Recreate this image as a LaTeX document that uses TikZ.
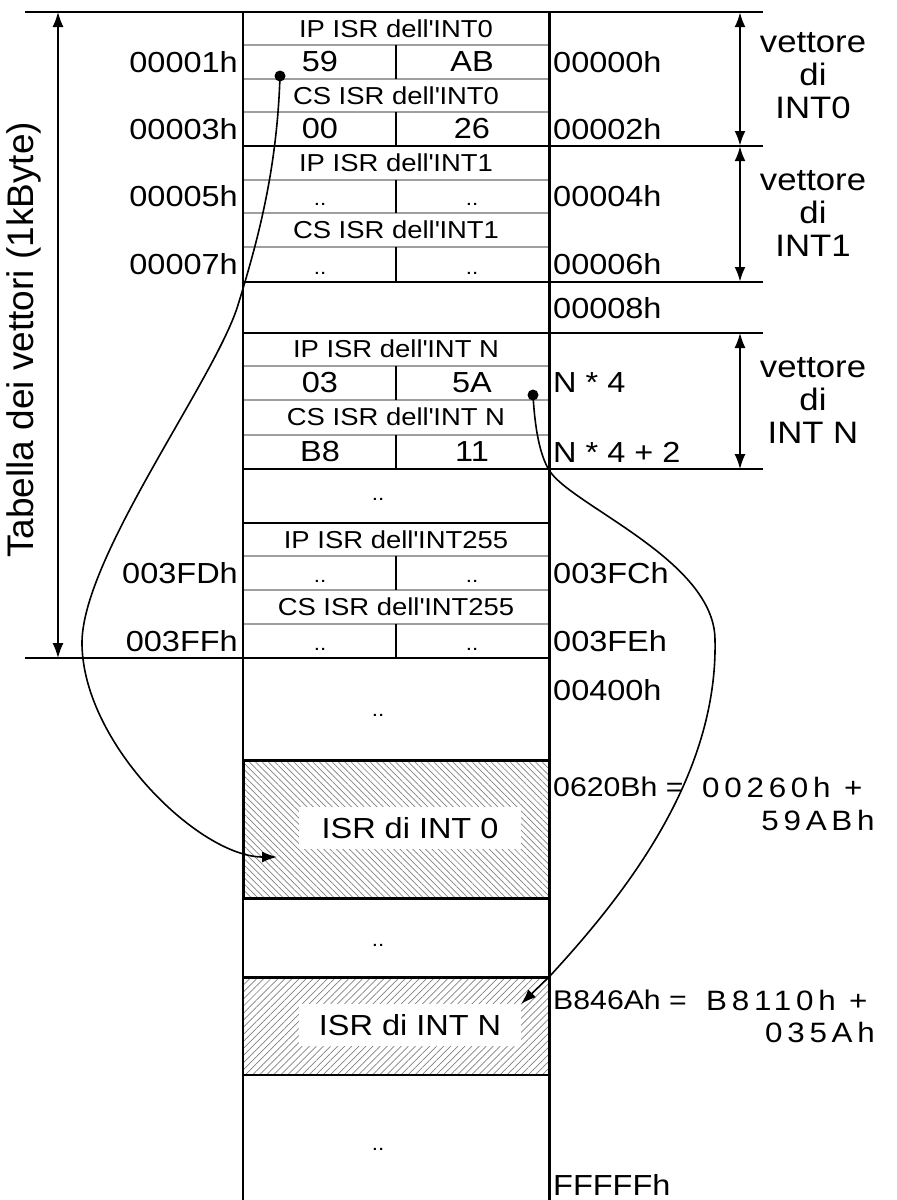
\documentclass[tikz,border=0pt]{standalone}
\usepackage{fontspec}
\setmainfont{Liberation Sans}[FakeStretch=1.12]
\newfontfamily\upfont{Liberation Sans}
\usetikzlibrary{arrows.meta,patterns.meta}
\tikzset{>={Latex[length=15pt,width=11pt]}}
\tikzset{
  addr/.style={font=\fontsize{29}{31}\selectfont, inner sep=2pt},
  head/.style={font=\fontsize{24.5}{26}\selectfont, inner sep=0pt},
  val/.style={font=\fontsize{29}{31}\selectfont, inner sep=0pt},
  dots/.style={font=\fontsize{20}{20}\selectfont, anchor=base, inner sep=0pt},
  spaced/.style={font=\fontsize{28}{30}\selectfont\addfontfeature{LetterSpace=17}},
  subline/.style={gray!75, line width=2pt},
  rowline/.style={line width=1.8pt},
  vect/.style={align=center, font=\fontsize{31}{33}\selectfont},
  isr/.style={fill=white, font=\fontsize{29}{31}\selectfont, minimum width=222pt, minimum height=42pt, inner sep=0pt},
}

\begin{document}
\begin{tikzpicture}[x=1pt,y=-1pt]
\useasboundingbox (0,0) rectangle (897,1200);

% ISR areas
\fill[pattern={Lines[angle=-45,distance=4.5pt,line width=0.7pt]}, pattern color=gray] (243,760) rectangle (549,898);
\fill[pattern={Lines[angle=45,distance=5pt,line width=0.7pt]}, pattern color=gray] (243,977) rectangle (549,1075);

% rows of the table
\foreach \y in {45,79,112,180,213,247,366,400,435,556,590,624}
  \draw[subline] (243,\y) -- (549,\y);
\foreach \y in {146,282,333,469,523,658}
  \draw[rowline] (243,\y) -- (549,\y);
\foreach \ya/\yb in {45/79,112/146,180/213,247/282,366/400,435/469,556/590,624/658}
  \draw[line width=1.3pt] (396,\ya) -- (396,\yb);

% borders
\draw[line width=2pt] (25,12) -- (763,12);
\draw[line width=1.8pt] (25,658) -- (243,658);
\draw[line width=1.8pt] (549,146) -- (763,146);
\draw[line width=2.6pt] (549,282) -- (763,282);
\draw[line width=1.8pt] (549,333) -- (763,333);
\draw[line width=1.8pt] (549,469) -- (763,469);
\draw[line width=3pt] (243,760) rectangle (549,898);
\draw[line width=3pt] (243,977) -- (549,977);
\draw[line width=2.2pt] (243,1075) -- (549,1075);
\draw[line width=2.2pt] (243,12) -- (243,1200);
\draw[line width=3pt] (549,12) -- (549,1200);

% cell texts
\node[head] (ip0) at (396,29) {IP ISR dell\textquotesingle INT0};
\node[val] (a0) at (320,62) {59};
\node[val] (b0) at (472,62) {AB};
\node[head] (cs0) at (396,96) {CS ISR dell\textquotesingle INT0};
\node[val] (c0) at (320,129) {00};
\node[val] (d0) at (472,129) {26};
\node[head] (ip1) at (396,163) {IP ISR dell\textquotesingle INT1};
\node[dots] at (320,205) {..};
\node[dots] at (472,205) {..};
\node[head] (cs1) at (396,230) {CS ISR dell\textquotesingle INT1};
\node[dots] at (320,274) {..};
\node[dots] at (472,274) {..};
\node[head] (ipN) at (396,349) {IP ISR dell\textquotesingle INT N};
\node[val] (aN) at (320,383) {03};
\node[val] (bN) at (472,383) {5A};
\node[head] (csN) at (396,417) {CS ISR dell\textquotesingle INT N};
\node[val] (cN) at (320,452) {B8};
\node[val] (dN) at (472,452) {11};
\node[dots] at (378,500) {..};
\node[head] (ip255) at (396,540) {IP ISR dell\textquotesingle INT255};
\node[dots] at (320,582) {..};
\node[dots] at (472,582) {..};
\node[head] (cs255) at (396,607) {CS ISR dell\textquotesingle INT255};
\node[dots] at (320,650) {..};
\node[dots] at (472,650) {..};
\node[dots] at (378,716) {..};
\node[isr] (isr0) at (410,828) {ISR di INT 0};
\node[dots] at (378,946) {..};
\node[isr] (isrN) at (410,1025) {ISR di INT N};
\node[dots] at (378,1150) {..};

% addresses
\foreach \t/\y in {00001h/62,00003h/129,00005h/196,00007h/264,003FDh/573,003FFh/641}
  \node[addr, anchor=east] at (240,\y) {\t};
\foreach \t/\y in {00000h/62,00002h/129,00004h/196,00006h/264,00008h/308,003FCh/573,003FEh/641,00400h/690,FFFFFh/1185}
  \node[addr, anchor=west] at (551,\y) {\t};
\node[addr, anchor=west] (n4) at (551,383) {N * 4};
\node[addr, anchor=west] (n42) at (551,452) {N * 4 + 2};
\node[addr, anchor=west, font=\fontsize{27}{29}\selectfont] (sum0) at (551,787) {0620Bh =};
\node[addr, spaced, anchor=west] (s0a) at (700,787) {00260h +};
\node[addr, spaced] (s0b) at (818,820) {59ABh};
\node[addr, anchor=west, font=\fontsize{27}{29}\selectfont] (sumN) at (551,1000) {B846Ah =};
\node[addr, spaced, anchor=west] (sNa) at (704,1000) {B8110h +};
\node[addr, spaced] (sNb) at (820,1032) {035Ah};

% vectors
\draw[line width=2.6pt, <->] (740,12) -- (740,146);
\draw[line width=2.6pt, <->] (740,146) -- (740,282);
\draw[line width=1.4pt, <->] (740,333) -- (740,469);
\node[vect] (vec0) at (813,76) {vettore\\di\\INT0};
\node[vect] (vec1) at (813,213) {vettore\\di\\INT1};
\node[vect] (vecN) at (813,400) {vettore\\di\\INT N};

% table size
\draw[line width=1.4pt, <->] (58,12) -- (58,658);
\node[rotate=90, font=\upfont\fontsize{37}{39}\selectfont] (tab) at (24,340) {Tabella dei vettori (1kByte)};

% links to the ISRs
\coordinate (p0) at (280,76);
\coordinate (pN) at (533,395);
\coordinate (e0) at (277,857);
\fill (p0) circle (5.5pt);
\fill (pN) circle (5.5pt);
\draw[line width=1.6pt, ->] (p0) .. controls (277,170) and (258,240) .. (238,305)
  .. controls (215,380) and (80,560) .. (82,645)
  .. controls (84,745) and (200,857) .. (e0);
\draw[line width=1.6pt, ->] (pN) .. controls (535,430) and (540,455) .. (549,470)
  .. controls (570,505) and (715,560) .. (715,640)
  .. controls (718,780) and (620,900) .. (549,977) -- (isrN.north east);

\end{tikzpicture}
\end{document}
